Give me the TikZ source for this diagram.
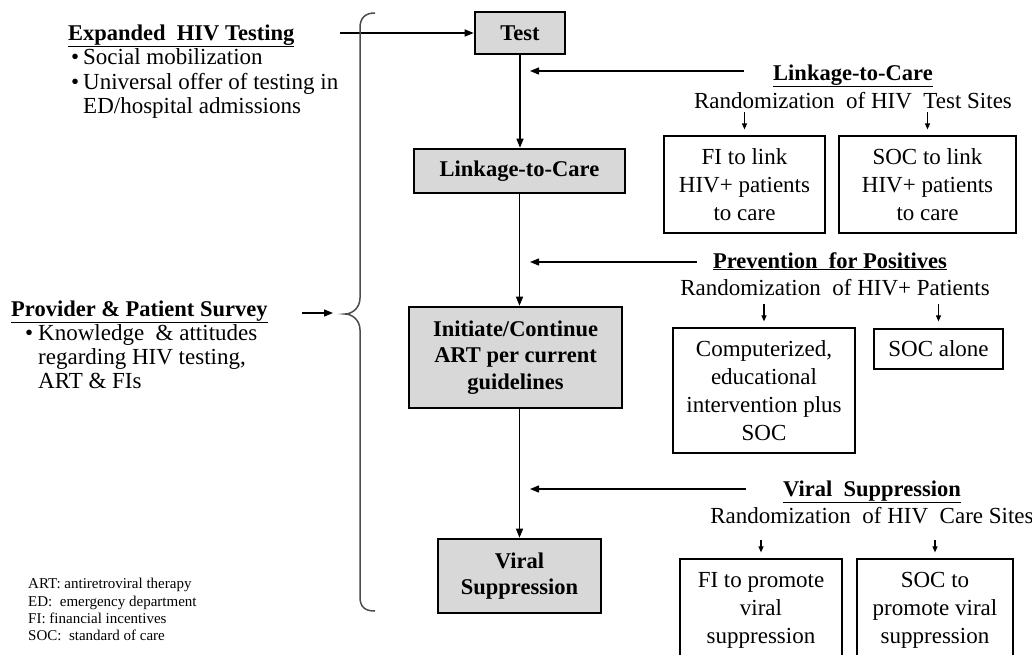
\documentclass[tikz,border=0pt]{standalone}
\usepackage{fontspec}
\setmainfont{Liberation Serif}
\usetikzlibrary{arrows.meta,calc}
\definecolor{boxgray}{RGB}{216,216,216}
\begin{document}
\begin{tikzpicture}[x=1pt,y=-1pt,
  txt/.style={inner sep=0pt, anchor=base west, font=\fontsize{23}{27}\selectfont},
  ctxt/.style={inner sep=0pt, anchor=base, font=\fontsize{23}{27}\selectfont},
  btitle/.style={font=\fontsize{22.5}{27}\selectfont\bfseries},
  legend/.style={inner sep=0pt, anchor=base west, font=\fontsize{15}{17}\selectfont},
  graybox/.style={draw, line width=2.6pt, fill=boxgray, inner sep=0pt, align=center,
     font=\fontsize{22.5}{26.5}\selectfont\bfseries},
  whitebox/.style={draw, line width=1.2pt, inner sep=0pt, align=center,
     font=\fontsize{23}{28}\selectfont},
  arr/.style={line width=1.3pt, -{Triangle[length=9pt,width=7pt]}},
  sarr/.style={line width=1.1pt, -{Triangle[length=6pt,width=5pt]}},
  brace/.style={line width=1.5pt, draw=black!70}
]
\useasboundingbox (0,0) rectangle (1032,654);
\clip (0,0) rectangle (1032,654);

% ---- main column ----
\node[graybox, minimum width=90pt, minimum height=42pt] (test) at (520,33) {Test};
\node[graybox, minimum width=211pt, minimum height=44pt] (link) at (519.5,171) {Linkage-to-Care};
\node[graybox, minimum width=213pt, minimum height=101pt] (init) at (515.5,357.5)
   {Initiate/Continue\\ART per current\\guidelines};
\node[graybox, minimum width=163pt, minimum height=74pt] (vs) at (519.5,576) {Viral\\Suppression};

\draw[arr] (test.south) -- (test.south |- link.north);
\draw[arr] (link.south) -- (link.south |- init.north);
\draw[arr] (init.south -| vs.north) -- (vs.north);

% ---- left side ----
\node[txt, btitle] (exp) at (68,40) {\underline{Expanded\ \ HIV Testing}};
\node[txt] (b1) at (71,64) {\textbullet};
\node[txt] (e1) at (83,64) {Social mobilization};
\node[txt] (b2) at (71,89) {\textbullet};
\node[txt] (e2) at (83,89) {Universal offer of testing in};
\node[txt] (e3) at (83,113) {ED/hospital admissions};
\coordinate (s1) at (340,33);
\draw[arr] (s1) -- (test.west);

\node[txt, btitle] (prov) at (11,316) {\underline{Provider \& Patient Survey}};
\node[txt] (b3) at (25,340) {\textbullet};
\node[txt] (p1) at (38,340) {Knowledge \ \& attitudes};
\node[txt] (p2) at (38,364) {regarding HIV testing,};
\node[txt] (p3) at (38,388) {ART \& FIs};

% brace
\coordinate (tip) at (345,314);
\draw[brace] (375,13) .. controls (365,13) and (360,18) .. (360,28) -- (360,298)
   .. controls (360,308) and (352,314) .. (tip)
   .. controls (352,314) and (360,320) .. (360,330) -- (360,597)
   .. controls (360,607) and (365,611) .. (375,611);
\coordinate (s2) at (302,313);
\draw[arr, shorten >=12pt] (s2) -- (tip |- s2);

% legend
\node[legend] (l1) at (28,588) {ART: antiretroviral therapy};
\node[legend] (l2) at (28,606) {ED: \ emergency department};
\node[legend] (l3) at (28,623) {FI: financial incentives};
\node[legend] (l4) at (28,640) {SOC: \ standard of care};

% ---- right side: Linkage-to-Care ----
\node[ctxt, btitle] (t1) at (853,80) {\underline{Linkage-to-Care}};
\node[ctxt] (r1) at (853,108) {Randomization \ of HIV \ Test Sites};
\coordinate (m1) at (530,71);
\draw[arr] ([xshift=-29pt]t1.west |- m1) -- (m1);
\node[whitebox, minimum width=161pt, minimum height=97pt] (fi1) at (744.5,184.5)
   {FI to link\\HIV+ patients\\to care};
\node[whitebox, minimum width=177pt, minimum height=97pt] (soc1) at (927.5,184.5)
   {SOC to link\\HIV+ patients\\to care};
\draw[sarr] ([yshift=23pt]fi1.north) -- ([yshift=6pt]fi1.north);
\draw[sarr] ([yshift=23pt]soc1.north) -- ([yshift=6pt]soc1.north);

% ---- Prevention for Positives ----
\node[ctxt, btitle] (t2) at (830,268) {\underline{Prevention \ for Positives}};
\node[ctxt] (r2) at (835,295) {Randomization \ of HIV+ Patients};
\coordinate (m2) at (530,262);
\draw[arr] ([xshift=-16pt]t2.west |- m2) -- (m2);
\node[whitebox, minimum width=182pt, minimum height=125pt] (comp) at (764,390.5)
   {Computerized,\\educational\\intervention plus\\SOC};
\node[whitebox, minimum width=129pt, minimum height=40pt] (soc2) at (938.5,349) {SOC alone};
\draw[sarr] ([yshift=23pt]comp.north) -- ([yshift=6pt]comp.north);
\draw[sarr] ([yshift=24pt]soc2.north) -- ([yshift=7pt]soc2.north);

% ---- Viral Suppression ----
\node[ctxt, btitle] (t3) at (872,496) {\underline{Viral \ Suppression}};
\node[ctxt] (r3) at (872,523) {Randomization \ of HIV \ Care Sites};
\coordinate (m3) at (530,489);
\draw[arr] ([xshift=-37pt]t3.west |- m3) -- (m3);
\node[whitebox, minimum width=162pt, minimum height=102pt] (fi3) at (761,610)
   {FI to promote\\viral\\suppression};
\node[whitebox, minimum width=156pt, minimum height=102pt] (soc3) at (935,610)
   {SOC to\\promote viral\\suppression};
\draw[sarr] ([yshift=18pt]fi3.north) -- ([yshift=6pt]fi3.north);
\draw[sarr] ([yshift=18pt]soc3.north) -- ([yshift=6pt]soc3.north);
\end{tikzpicture}
\end{document}
